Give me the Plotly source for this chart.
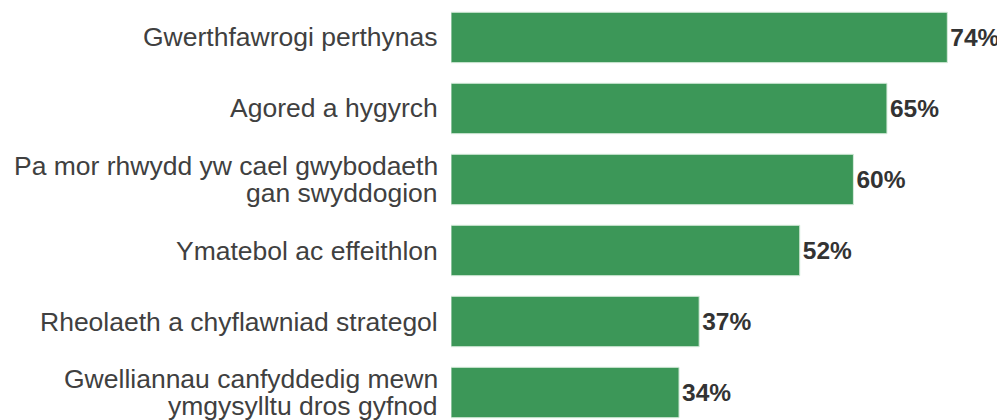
import plotly.graph_objects as go

categories = [
    "Gwerthfawrogi perthynas",
    "Agored a hygyrch",
    "Pa mor rhwydd yw cael gwybodaeth<br>gan swyddogion",
    "Ymatebol ac effeithlon",
    "Rheolaeth a chyflawniad strategol",
    "Gwelliannau canfyddedig mewn<br>ymgysylltu dros gyfnod",
]
values = [74, 65, 60, 52, 37, 34]
value_labels = [f"{v}%" for v in values]

FONT = "Liberation Sans, Arial, sans-serif"

fig = go.Figure(go.Bar(
    x=values,
    y=categories,
    orientation="h",
    marker=dict(color="#3c9758", line=dict(color="#d6ebdb", width=1)),
    text=value_labels,
    textposition="outside",
    cliponaxis=False,
    textfont=dict(family=FONT, size=24.5, color="#333333"),
    texttemplate="<b>%{text}</b>",
))

# category labels as annotations (tight line spacing like the reference)
annotations = []
LINE = 27
for cat in categories:
    lines = cat.split("<br>")
    n = len(lines)
    for i, ln in enumerate(lines):
        shift = ((n - 1) / 2 - i) * LINE
        annotations.append(dict(
            text=ln, xref="paper", x=0, xanchor="right", xshift=-11,
            yref="y", y=cat, yanchor="middle", yshift=shift,
            showarrow=False,
            font=dict(family=FONT, size=26.5, color="#404040"),
        ))

fig.update_layout(
    width=997,
    height=412,
    margin=dict(l=443, r=0, t=0, b=0),
    paper_bgcolor="white",
    plot_bgcolor="white",
    bargap=0.29,
    showlegend=False,
    font=dict(family=FONT, size=20, color="#404040"),
    annotations=annotations,
)
fig.update_xaxes(range=[0, 82.6], visible=False, showgrid=False, zeroline=False)
fig.update_yaxes(
    range=[5.387, -0.415],
    showgrid=False,
    zeroline=False,
    showline=False,
    ticks="",
    showticklabels=False,
)

fig.write_html("out.html")
